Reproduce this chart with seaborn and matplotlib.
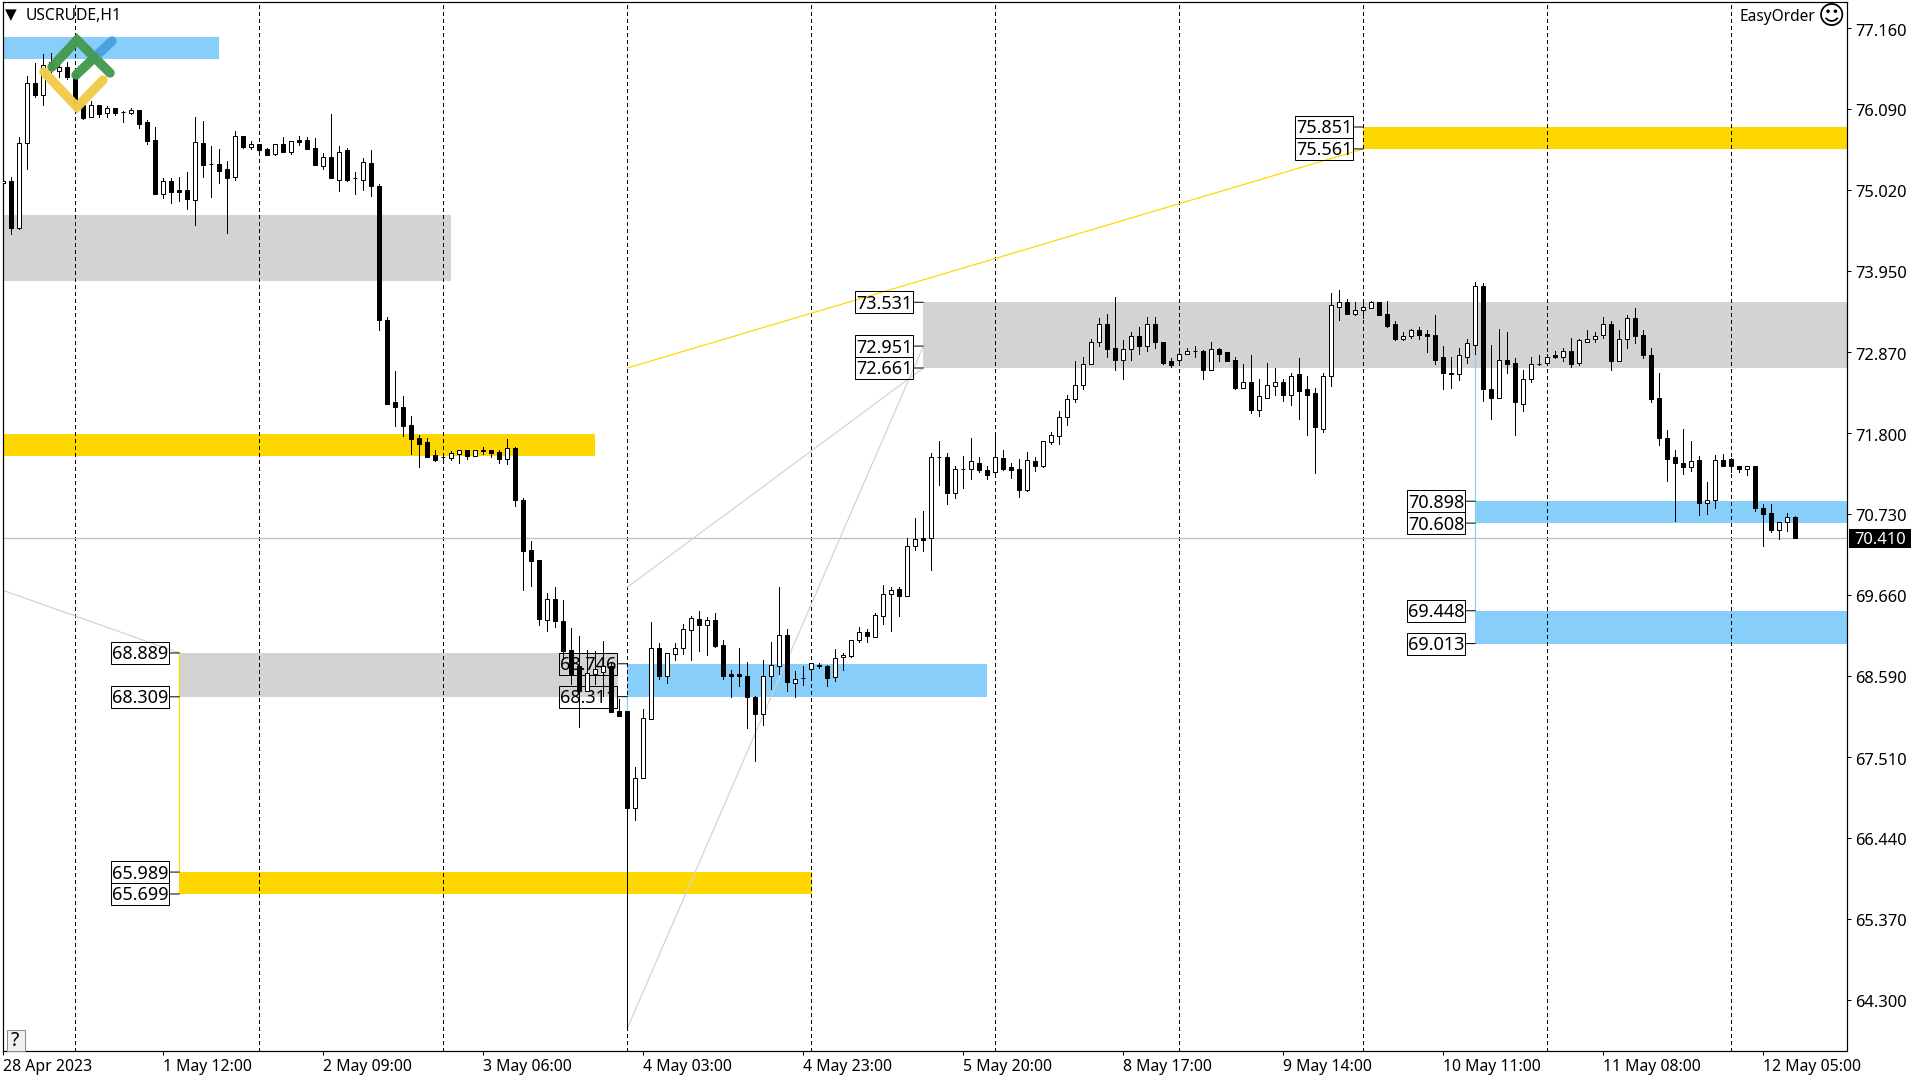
import numpy as np
import pandas as pd
import matplotlib
matplotlib.use("Agg")
import matplotlib.pyplot as plt
from matplotlib.lines import Line2D
from matplotlib.patches import Rectangle
from matplotlib.transforms import IdentityTransform, ScaledTranslation
import seaborn as sns

opens = [
75.11,75.14,74.52,75.64,76.43,76.28,76.71,76.59,76.65,76.57,
76.14,75.98,76.14,76.04,76.10,76.05,76.04,76.08,75.92,75.68,
74.97,75.14,75.02,75.02,74.89,75.64,75.36,75.36,75.30,75.19,
75.73,75.59,75.63,75.56,75.50,75.63,75.52,75.68,75.68,75.57,
75.34,75.46,75.15,75.54,75.17,75.15,75.38,75.07,73.29,72.21,
72.15,71.90,71.73,71.68,71.51,71.48,71.47,71.52,71.57,71.49,
71.58,71.57,71.55,71.45,71.60,70.92,70.25,70.12,69.33,69.60,
69.31,68.93,68.72,68.39,68.61,68.64,68.72,68.12,68.12,66.84,
67.24,68.01,68.96,68.59,68.88,68.96,69.19,69.34,69.26,69.33,
68.99,68.61,68.61,68.59,68.31,68.08,68.59,68.72,69.13,68.49,
68.56,68.68,68.73,68.72,68.57,68.84,68.85,69.06,69.17,69.10,
69.38,69.67,69.74,69.64,70.30,70.41,70.41,71.48,71.48,71.00,
71.33,71.33,71.41,71.31,71.28,71.47,71.35,71.33,71.04,71.43,
71.36,71.68,71.76,72.01,72.25,72.43,72.71,73.01,73.24,72.92,
72.77,72.91,73.08,72.95,73.24,73.01,72.76,72.77,72.85,72.89,
72.89,72.64,72.91,72.87,72.77,72.40,72.47,72.10,72.27,72.42,
72.48,72.31,72.58,72.38,72.33,71.86,72.56,73.47,73.53,73.38,
73.43,73.46,73.53,73.37,73.24,73.04,73.08,73.17,73.11,73.10,
72.81,72.60,72.58,72.81,72.96,73.74,72.38,72.27,72.77,72.73,
72.19,72.52,72.71,72.73,72.83,72.81,72.89,72.73,73.01,73.04,
73.10,73.25,72.76,73.04,73.32,73.10,72.83,72.26,71.73,71.48,
71.41,71.35,71.44,70.87,70.91,71.44,71.45,71.37,71.32,71.36,
70.81,70.74,70.52,70.62,70.69]

highs = [
75.32,75.19,75.72,76.53,76.70,76.82,76.83,76.67,76.71,76.60,
76.16,76.20,76.14,76.13,76.10,76.06,76.10,76.08,75.95,75.85,
75.18,75.17,75.19,75.26,75.98,75.93,75.60,75.56,75.40,75.80,
75.73,75.67,75.63,75.57,75.63,75.72,75.67,75.73,75.72,75.71,
75.51,76.02,75.60,75.57,75.25,75.44,75.55,75.09,73.33,72.62,
72.29,72.03,71.77,71.73,71.58,71.51,71.56,71.57,71.58,71.58,
71.62,71.57,71.57,71.72,71.61,70.94,70.37,70.12,69.68,69.76,
69.59,69.22,69.12,68.93,68.92,69.05,68.77,68.28,68.12,67.38,
68.15,69.30,69.02,68.89,69.02,69.27,69.38,69.45,69.37,69.42,
69.06,68.67,68.96,68.77,68.32,68.80,69.04,69.76,69.21,68.65,
68.71,68.75,68.76,68.73,68.94,68.89,69.06,69.23,69.21,69.42,
69.79,69.76,69.76,70.41,70.67,70.77,71.53,71.69,71.53,71.37,
71.49,71.74,71.48,71.37,71.81,71.57,71.40,71.45,71.55,71.48,
71.70,71.81,72.09,72.31,72.75,72.80,73.05,73.32,73.37,73.60,
73.03,73.14,73.20,73.33,73.34,73.01,72.79,72.92,72.93,72.95,
72.90,73.00,72.92,72.87,72.80,72.72,72.83,72.51,72.73,72.66,
72.51,72.59,72.79,72.55,72.40,72.60,73.65,73.70,73.58,73.53,
73.53,73.55,73.54,73.55,73.28,73.14,73.18,73.21,73.17,73.36,
72.95,72.80,72.92,73.04,73.80,73.78,72.96,73.18,73.14,72.79,
72.63,72.81,72.83,72.84,72.88,72.92,73.06,73.05,73.16,73.14,
73.34,73.28,73.16,73.36,73.46,73.17,72.93,72.59,71.84,71.58,
71.86,71.70,71.49,71.15,71.51,71.52,71.47,71.37,71.37,71.36,
70.86,70.86,70.62,70.74,70.70]

lows = [
74.85,74.43,74.50,75.29,76.25,76.14,76.58,76.51,76.49,76.08,
75.96,75.98,75.98,75.98,76.01,75.92,76.02,75.84,75.63,74.97,
74.91,74.85,74.87,74.77,74.56,75.19,74.93,75.11,74.45,75.15,
75.57,75.56,75.48,75.48,75.48,75.52,75.50,75.61,75.56,75.35,
75.30,75.17,75.01,75.13,74.97,75.02,74.94,73.17,72.19,71.89,
71.76,71.52,71.35,71.48,71.43,71.41,71.44,71.41,71.45,71.49,
71.52,71.48,71.40,71.39,70.83,69.72,69.78,69.26,69.18,69.23,
68.81,68.48,67.91,68.38,68.48,68.32,68.11,68.06,63.92,66.68,
67.24,68.01,68.55,68.49,68.79,68.88,68.80,68.92,68.86,68.97,
68.55,68.31,68.45,67.90,67.46,67.93,68.41,68.61,68.38,68.31,
68.47,68.59,68.69,68.45,68.52,68.67,68.84,69.04,69.04,69.10,
69.27,69.18,69.38,69.64,70.25,70.24,69.99,71.11,70.86,70.94,
71.07,71.19,71.28,71.19,71.22,71.31,71.20,70.96,71.03,71.30,
71.35,71.65,71.65,71.90,72.21,72.38,72.71,72.95,72.80,72.64,
72.52,72.77,72.84,72.88,72.92,72.71,72.67,72.70,72.85,72.80,
72.52,72.64,72.75,72.76,72.38,72.40,72.07,72.03,72.26,72.30,
72.22,72.17,71.99,71.78,71.27,71.81,72.42,73.29,73.38,73.36,
73.32,73.45,73.36,73.21,73.03,73.03,73.06,73.04,72.87,72.72,
72.38,72.39,72.50,72.73,72.85,72.23,71.98,72.26,72.60,71.77,
72.09,72.48,72.70,72.70,72.79,72.76,72.67,72.70,73.00,73.01,
73.06,72.64,72.75,72.93,72.99,72.79,72.21,71.64,71.16,70.63,
71.26,71.30,70.71,70.73,70.81,71.37,71.28,71.28,71.24,70.77,
70.30,70.49,70.40,70.50,70.41]

closes = [
75.14,74.52,75.64,76.43,76.28,76.67,76.60,76.65,76.51,76.17,
75.97,76.14,76.02,76.10,76.04,76.05,76.08,75.89,75.67,74.97,
75.14,74.99,74.99,74.90,75.65,75.35,75.36,75.27,75.18,75.73,
75.59,75.63,75.55,75.48,75.63,75.52,75.67,75.65,75.56,75.35,
75.46,75.17,75.52,75.15,75.17,75.39,75.07,73.29,72.19,72.15,
71.89,71.72,71.66,71.48,71.44,71.48,71.53,71.57,71.49,71.58,
71.56,71.53,71.45,71.60,70.91,70.24,70.11,69.34,69.60,69.31,
68.92,68.61,68.38,68.63,68.68,68.72,68.11,68.06,66.84,67.24,
68.03,68.96,68.59,68.89,68.96,69.21,69.35,69.26,69.33,68.98,
68.59,68.59,68.59,68.31,68.08,68.59,68.73,69.13,68.51,68.55,
68.56,68.75,68.71,68.56,68.82,68.86,69.06,69.17,69.12,69.39,
69.67,69.72,69.64,70.30,70.40,70.38,71.48,71.48,71.00,71.33,
71.33,71.43,71.31,71.24,71.48,71.33,71.31,71.04,71.44,71.36,
71.69,71.77,72.01,72.25,72.44,72.72,73.00,73.24,72.91,72.77,
72.91,73.08,72.95,73.24,73.00,72.73,72.70,72.85,72.89,72.89,
72.64,72.91,72.85,72.76,72.40,72.47,72.10,72.29,72.43,72.48,
72.31,72.56,72.36,72.31,71.88,72.55,73.50,73.53,73.38,73.43,
73.47,73.53,73.36,73.22,73.04,73.09,73.17,73.10,73.09,72.77,
72.59,72.58,72.83,72.99,73.75,72.38,72.27,72.77,72.71,72.21,
72.52,72.72,72.71,72.80,72.80,72.89,72.72,73.03,73.05,73.09,
73.25,72.75,73.04,73.32,73.09,72.83,72.25,71.73,71.45,71.40,
71.35,71.43,70.87,70.92,71.44,71.37,71.36,71.32,71.36,70.81,
70.73,70.52,70.62,70.69,70.41]

price_ticks = [77.16, 76.09, 75.02, 73.95, 72.87, 71.80, 70.73, 69.66, 68.59, 67.51, 66.44, 65.37, 64.30]
time_tick_bars = [0, 20, 40, 60, 80, 100, 120, 140, 160, 180, 200, 220]
time_tick_labels = ["28 Apr 2023", "1 May 12:00", "2 May 09:00", "3 May 06:00", "4 May 03:00",
                    "4 May 23:00", "5 May 20:00", "8 May 17:00", "9 May 14:00", "10 May 11:00",
                    "11 May 08:00", "12 May 05:00"]
grid_bars = [9, 32, 55, 78, 101, 124, 147, 170, 193, 216]

last_price = 70.41
BLUE, GRAY, GOLD = "#87CEFA", "#D3D3D3", "#FFD700"

# zone: start bar, end bar, upper price, lower price, colour
zone_start = [-1, -1, -1, 22, 22, 78, 115, 170, 184, 184]
zone_end = [27, 56, 74, 76.8, 101.1, 123, 240, 240, 240, 240]
zone_top = [77.04, 74.686, 71.79, 68.889, 65.989, 68.746, 73.531, 75.851, 70.898, 69.448]
zone_bottom = [76.75, 73.813, 71.50, 68.309, 65.699, 68.311, 72.661, 75.561, 70.608, 69.013]
zone_color = [BLUE, GRAY, GOLD, GRAY, GOLD, BLUE, GRAY, GOLD, BLUE, BLUE]

# labelled levels: the bar the zone starts at, and its price
level_bar = [22, 22, 22, 22, 78, 78, 115, 115, 115, 170, 170, 184, 184, 184, 184]
level_price = [68.889, 68.309, 65.989, 65.699, 68.746, 68.311, 73.531, 72.951, 72.661,
               75.851, 75.561, 70.898, 70.608, 69.448, 69.013]

# connectors: bar a, price a, bar b, price b, colour
link_a_bar = [22, 78, -0.1, 78, 78, 78, 184]
link_a_price = [68.889, 72.661, 69.72, 69.76, 63.92, 68.311, 72.85]
link_b_bar = [22, 170, 22, 115, 115, 78, 184]
link_b_price = [65.989, 75.561, 68.889, 72.661, 72.951, 68.12, 69.448]
link_color = [GOLD, GOLD, GRAY, GRAY, GRAY, BLUE, BLUE]

sns.set_theme(style="white")
plt.rcParams["font.family"] = ["Noto Sans", "DejaVu Sans"]

W, H = 1920, 1080
PX = 0.72
fig = plt.figure(figsize=(19.2, 10.8), dpi=100, facecolor="white")
L, R, T, B = 2.5, 1847.0, 2.0, 1051.0
ax = fig.add_axes([L / W, 1 - B / H, (R - L) / W, (B - T) / H])
ax.set_facecolor("white")

ax.set_xlim((L - 3.3) / 8, (R - 3.3) / 8)
scale = 75.55
ax.set_ylim(77.16 - (B - 28.1) / scale, 77.16 + (28.1 - T) / scale)

for s, e, t, b, c in zip(zone_start, zone_end, zone_top, zone_bottom, zone_color):
    ax.add_patch(Rectangle((s, b), e - s, t - b, facecolor=c, edgecolor="none", zorder=1))

for x in grid_bars:
    ax.axvline(x, color="black", lw=PX, dashes=(3, 3), dash_capstyle="butt", zorder=2, antialiased=False)
ax.axhline(last_price, color="#C0C0C0", lw=PX * 1.3, zorder=2)

for xa, ya, xb, yb, c in zip(link_a_bar, link_a_price, link_b_bar, link_b_price, link_color):
    ax.plot([xa, xb], [ya, yb], color=c, lw=PX * 1.2, zorder=2)

for x, p in zip(level_bar, level_price):
    xd, yd = ax.transData.transform((x, p))
    ax.annotate("", xy=(x, p), xycoords="data", xytext=(-10, 0), textcoords="offset pixels",
                arrowprops=dict(arrowstyle="-", color="black", lw=PX, shrinkA=0, shrinkB=0), zorder=3)
    ax.add_patch(Rectangle((xd - 68, yd - 11), 58, 22, transform=IdentityTransform(), facecolor="none",
                           edgecolor="black", lw=PX, zorder=3, clip_on=False))
    ax.annotate(f"{p:.3f}", xy=(x, p), xycoords="data", xytext=(-39, -1.5), textcoords="offset pixels",
                ha="center", va="center", fontsize=13, color="black", zorder=3)

df = pd.DataFrame({"open": opens, "high": highs, "low": lows, "close": closes})
assert len(df) == 225
df["bar"] = np.arange(len(df))
wicks = df.melt(id_vars="bar", value_vars=["high", "low"], value_name="price")
sns.lineplot(data=wicks, x="bar", y="price", units="bar", estimator=None, sort=False,
             color="black", linewidth=PX, ax=ax, legend=False, zorder=4, antialiased=False)

up = df["close"] > df["open"]
ax.bar(df["bar"], (df["close"] - df["open"]).abs(), bottom=df[["open", "close"]].min(axis=1),
       width=0.5, color=np.where(up, "white", "black"), edgecolor="black", linewidth=PX, zorder=5)

for side in ax.spines.values():
    side.set_color("black")
    side.set_linewidth(PX * 1.2)

ax.set_xlabel("")
ax.set_ylabel("")
ax.yaxis.tick_right()
ax.set_yticks(price_ticks)
ax.set_yticklabels([f"{p:.3f}" for p in price_ticks], fontsize=11.9, color="black")
ax.set_xticks(time_tick_bars)
ax.set_xticklabels(time_tick_labels, fontsize=11.4, color="black", ha="left")
ax.tick_params(axis="y", right=True, length=3, width=PX, pad=3, color="black")
ax.tick_params(axis="x", bottom=True, length=3, width=PX, pad=3, color="black")
down = ScaledTranslation(0, -1.5 / 100, fig.dpi_scale_trans)
for lab in ax.get_yticklabels():
    lab.set_transform(lab.get_transform() + down)

def fx(x):
    return x / W

def fy(y):
    return 1 - y / H

# logo
logo = [([52, 77, 110], [67, 40, 73], "#459A50"),
        ([95, 112], [57, 41], "#4A9FDF"),
        ([76, 95], [75, 57], "#459A50"),
        ([44, 77, 103], [72, 107, 80], "#F2CB4A")]
for xs, ys, c in logo:
    fig.add_artist(Line2D([fx(v) for v in xs], [fy(v) for v in ys], color=c, lw=6.8,
                          solid_capstyle="round", solid_joinstyle="miter", zorder=10, alpha=0.97))

fig.text(fx(26), fy(16), "USCRUDE,H1", fontsize=11.3, ha="left", va="center", color="black")
fig.text(fx(11), fy(14.5), "\u25BC", fontsize=11, ha="center", va="center", color="black",
         family=["DejaVu Sans"])
fig.text(fx(1815), fy(17), "EasyOrder", fontsize=11.1, ha="right", va="center", color="black")
fig.text(fx(1832), fy(17.5), "\u263A", fontsize=19, ha="center", va="center", color="black",
         family=["DejaVu Sans"])

fig.add_artist(Rectangle((fx(6.5), fy(1051)), 18 / W, 21 / H, transform=fig.transFigure,
                         facecolor="#F0F0F0", edgecolor="#8C8C8C", lw=PX, zorder=10))
fig.text(fx(15), fy(1041), "?", fontsize=14, ha="center", va="center", color="black", zorder=11)

fig.add_artist(Rectangle((fx(1849), fy(548)), 62 / W, 19 / H, transform=fig.transFigure,
                         facecolor="black", edgecolor="none", zorder=10))
fig.text(fx(1880), fy(540), "70.410", fontsize=11.9, ha="center", va="center", color="white", zorder=11)

fig.savefig("out.png", dpi=100, facecolor="white")
